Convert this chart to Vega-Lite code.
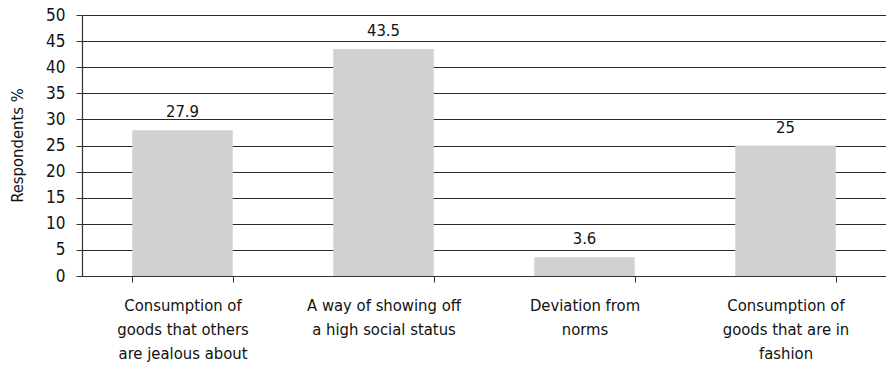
{
  "$schema": "https://vega.github.io/schema/vega-lite/v6.json",
  "width": 804,
  "height": 261,
  "autosize": "none",
  "padding": {"left": 82, "top": 15, "right": 0, "bottom": 95},
  "background": "white",
  "config": {
    "view": {"stroke": null},
    "font": "DejaVu Sans Condensed, sans-serif",
    "axis": {"labelFont": "DejaVu Sans Condensed, sans-serif", "titleFont": "DejaVu Sans Condensed, sans-serif", "labelColor": "#111111", "titleColor": "#111111"}
  },
  "data": {
    "values": [
      {"category": "Consumption of|goods that others|are jealous about", "value": 27.9, "order": 1},
      {"category": "A way of showing off|a high social status", "value": 43.5, "order": 2},
      {"category": "Deviation from|norms", "value": 3.6, "order": 3},
      {"category": "Consumption of|goods that are in|fashion", "value": 25, "order": 4}
    ]
  },
  "encoding": {
    "x": {
      "field": "category",
      "type": "nominal",
      "sort": {"field": "order"},
      "scale": {"paddingInner": 0.5, "paddingOuter": 0.25},
      "axis": {
        "title": null,
        "labelAngle": 0,
        "labelExpr": "split(datum.label, '|')",
        "labelFontSize": 16.5,
        "labelLineHeight": 24,
        "labelPadding": 15,
        "labelBaseline": "top",
        "tickBand": "extent",
        "tickSize": 6,
        "tickColor": "#333",
        "domainColor": "#333",
        "domainWidth": 1.2,
        "labelLimit": 300
      }
    },
    "y": {
      "field": "value",
      "type": "quantitative",
      "scale": {"domain": [0, 50], "nice": false},
      "axis": {
        "title": "Respondents %",
        "titleFontSize": 16.5,
        "titleFontWeight": "normal",
        "titleX": -65,
        "titleY": 130,
        "titleAngle": -90,
        "titleAlign": "center",
        "titleBaseline": "middle",
        "values": [0, 5, 10, 15, 20, 25, 30, 35, 40, 45, 50],
        "labelFontSize": 17,
        "labelPadding": 11,
        "tickSize": 6,
        "tickColor": "#333",
        "domainColor": "#333",
        "domainWidth": 1.2,
        "grid": true,
        "gridColor": "#2a2a2a",
        "gridWidth": 1.2
      }
    }
  },
  "layer": [
    {"mark": {"type": "bar", "color": "#d1d1d1"}},
    {
      "mark": {"type": "text", "baseline": "alphabetic", "dy": -13, "fontSize": 16.5, "color": "#111111"},
      "encoding": {"text": {"field": "value", "type": "quantitative"}}
    }
  ]
}
